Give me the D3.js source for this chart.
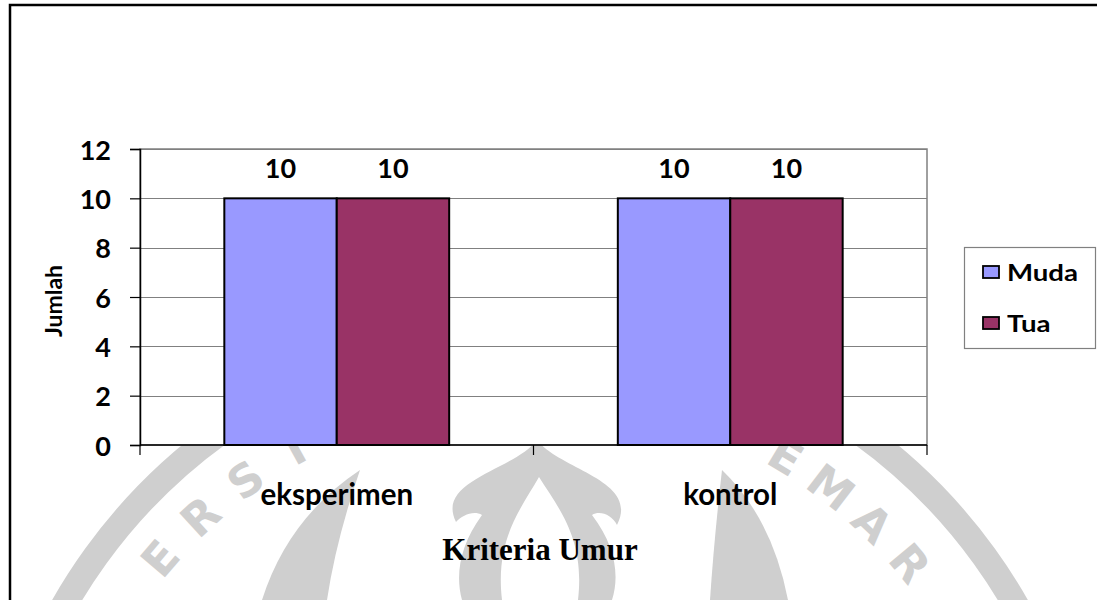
<!DOCTYPE html>
<html>
<head>
<meta charset="utf-8">
<script src="https://cdn.jsdelivr.net/npm/d3@7/dist/d3.min.js"></script>
<style>
  html, body { margin: 0; padding: 0; background: #ffffff; }
  svg { display: block; }
</style>
</head>
<body>
<svg id="chart" width="1097" height="600"></svg>
<script>
// ---- data ----
const categories = ["eksperimen", "kontrol"];
const seriesNames = ["Muda", "Tua"];
const mudaValues = [10, 10];
const tuaValues = [10, 10];
const yTicks = [0, 2, 4, 6, 8, 10, 12];
const yTitle = "Jumlah";
const xTitle = "Kriteria Umur";
const seriesColors = ["#9999FF", "#993366"];

// watermark letters visible in the reference (decorative background)
const wmLeftLetters = ["E", "R", "S", "I"];
const wmRightLetters = ["E", "M", "A", "R"];

const svg = d3.select("#chart");
const W = 1097, H = 600;
const plotL = 140, plotR = 927, plotT = 149, plotB = 445;

svg.append("rect").attr("width", W).attr("height", H).attr("fill", "#ffffff");

// ---- watermark ----
const wmColor = "#cfcfcf";
const wm = svg.append("g").attr("fill", wmColor);
const wcx = 533, wcy = 877, wr = 490;
function placeLetters(letters, startDeg, step) {
  letters.forEach((ch, i) => {
    const deg = startDeg + i * step;
    const a = deg * Math.PI / 180;
    const x = wcx + wr * Math.sin(a), yy = wcy - wr * Math.cos(a);
    wm.append("text")
      .attr("transform", `translate(${x},${yy}) rotate(${deg})`)
      .attr("text-anchor", "middle").attr("dominant-baseline", "central")
      .style("font-family", "'DejaVu Sans', sans-serif").style("font-weight", 700)
      .style("font-size", "45px").text(ch);
  });
}
placeLetters(wmLeftLetters, -49.5, 6.8);
placeLetters(wmRightLetters, 31, 6.4);
wm.append("path").attr("d", "M 360 470 Q 336 540 327 600 L 262 600 Q 288 518 360 470 Z");
wm.append("path").attr("d", "M 722 470 Q 714 540 710 600 L 788 600 Q 772 518 722 470 Z");
wm.append("path").attr("d", "M 537 440 C 560 470 640 480 617 525 C 612 515 600 510 592 515 C 615 545 620 575 612 600 L 462 600 C 455 575 460 545 482 515 C 474 510 462 515 456 522 C 435 480 515 470 537 440 Z");
wm.append("path").attr("fill", "#ffffff").attr("d", "M 539 477 C 560 510 585 540 578 600 L 502 600 C 495 540 520 510 539 477 Z");
wm.append("path").attr("fill", "none").attr("stroke", wmColor).attr("stroke-width", 26)
  .attr("d", d3.arc()({ innerRadius: 548, outerRadius: 548, startAngle: -1.25, endAngle: 1.25 }))
  .attr("transform", `translate(540,${wcy})`);

// ---- frame ----
svg.append("path").attr("d", `M 10 600 L 10 5 L ${W} 5`)
  .attr("fill", "none").attr("stroke", "#000").attr("stroke-width", 2.5);

// ---- scales ----
const y = d3.scaleLinear().domain([0, 12]).range([plotB, plotT]);
const x0 = d3.scaleBand().domain(categories).range([plotL, plotR]).paddingInner(0).paddingOuter(0);
const x1 = d3.scaleBand().domain(seriesNames).range([0, x0.bandwidth()]).paddingInner(0).paddingOuter(0.75);

// plot area
svg.append("rect").attr("x", plotL).attr("y", plotT).attr("width", plotR - plotL).attr("height", plotB - plotT)
  .attr("fill", "#ffffff").attr("stroke", "#808080").attr("stroke-width", 1.5);

// gridlines
svg.append("g").selectAll("line").data(yTicks.filter(d => d > 0)).join("line")
  .attr("x1", plotL).attr("x2", plotR)
  .attr("y1", d => Math.round(y(d)) + 0.5).attr("y2", d => Math.round(y(d)) + 0.5)
  .attr("stroke", "#808080").attr("stroke-width", 1.2);

// bars
const tableRows = categories.map((c, i) => ({ cat: c, values: [mudaValues[i], tuaValues[i]] }));
const groups = svg.append("g").selectAll("g").data(tableRows).join("g")
  .attr("transform", d => `translate(${x0(d.cat)},0)`);
groups.selectAll("rect").data(d => d.values.map((v, j) => ({ s: seriesNames[j], v, j }))).join("rect")
  .attr("x", d => x1(d.s)).attr("width", x1.bandwidth())
  .attr("y", d => y(d.v)).attr("height", d => y(0) - y(d.v))
  .attr("fill", d => seriesColors[d.j]).attr("stroke", "#000").attr("stroke-width", 2);
groups.selectAll("text").data(d => d.values.map((v, j) => ({ s: seriesNames[j], v, j }))).join("text")
  .attr("x", d => x1(d.s) + x1.bandwidth() / 2).attr("y", d => y(d.v) - 20)
  .attr("text-anchor", "middle")
  .style("font-family", "Lato, sans-serif").style("font-weight", 700).style("font-size", "27px")
  .text(d => d.v);

// y axis
const yAxis = svg.append("g").attr("transform", `translate(${plotL},0)`)
  .call(d3.axisLeft(y).tickValues(yTicks).tickSize(10).tickPadding(19).tickFormat(d3.format("d")));
yAxis.select(".domain").attr("stroke", "#000").attr("stroke-width", 1.5);
yAxis.selectAll(".tick line").attr("stroke", "#000").attr("stroke-width", 1.2);
yAxis.selectAll(".tick text").attr("fill", "#000")
  .style("font-family", "Lato, sans-serif").style("font-weight", 700).style("font-size", "27px")
  .attr("dy", "0.37em");

// x axis
const xAxisG = svg.append("g").attr("transform", `translate(0,${plotB})`);
xAxisG.append("line").attr("x1", plotL).attr("x2", plotR).attr("stroke", "#000").attr("stroke-width", 1.5);
const boundaries = [plotL].concat(categories.map(c => x0(c) + x0.bandwidth()));
xAxisG.selectAll("line.tk").data(boundaries).join("line").attr("class", "tk")
  .attr("x1", d => d).attr("x2", d => d).attr("y1", 0).attr("y2", 10)
  .attr("stroke", "#000").attr("stroke-width", 1.2);
xAxisG.selectAll("text").data(categories).join("text")
  .attr("x", d => x0(d) + x0.bandwidth() / 2).attr("y", 60)
  .attr("text-anchor", "middle")
  .style("font-family", "Lato, sans-serif").style("font-weight", 700).style("font-size", "29.5px")
  .text(d => d);

// axis titles
svg.append("text").attr("transform", "translate(62,301) rotate(-90)")
  .attr("text-anchor", "middle")
  .style("font-family", "Lato, sans-serif").style("font-weight", 700).style("font-size", "23px")
  .text(yTitle);
svg.append("text").attr("x", 540).attr("y", 560).attr("text-anchor", "middle")
  .style("font-family", "'Liberation Serif', 'Times New Roman', serif").style("font-weight", 700).style("font-size", "31px")
  .text(xTitle);

// legend
const leg = svg.append("g");
leg.append("rect").attr("x", 964.5).attr("y", 247.5).attr("width", 131).attr("height", 101)
  .attr("fill", "#fff").attr("stroke", "#808080").attr("stroke-width", 1.2);
const legY = d3.scalePoint().domain(seriesNames).range([272, 323]);
seriesNames.forEach((s, i) => {
  leg.append("rect").attr("x", 983).attr("y", legY(s) - 6).attr("width", 16).attr("height", 12)
    .attr("fill", seriesColors[i]).attr("stroke", "#000").attr("stroke-width", 1.8);
  leg.append("text").attr("transform", `translate(1007,${legY(s) + 8.5}) scale(1.2,1)`)
    .style("font-family", "Lato, sans-serif").style("font-weight", 700).style("font-size", "23px")
    .text(s);
});
</script>
</body>
</html>
